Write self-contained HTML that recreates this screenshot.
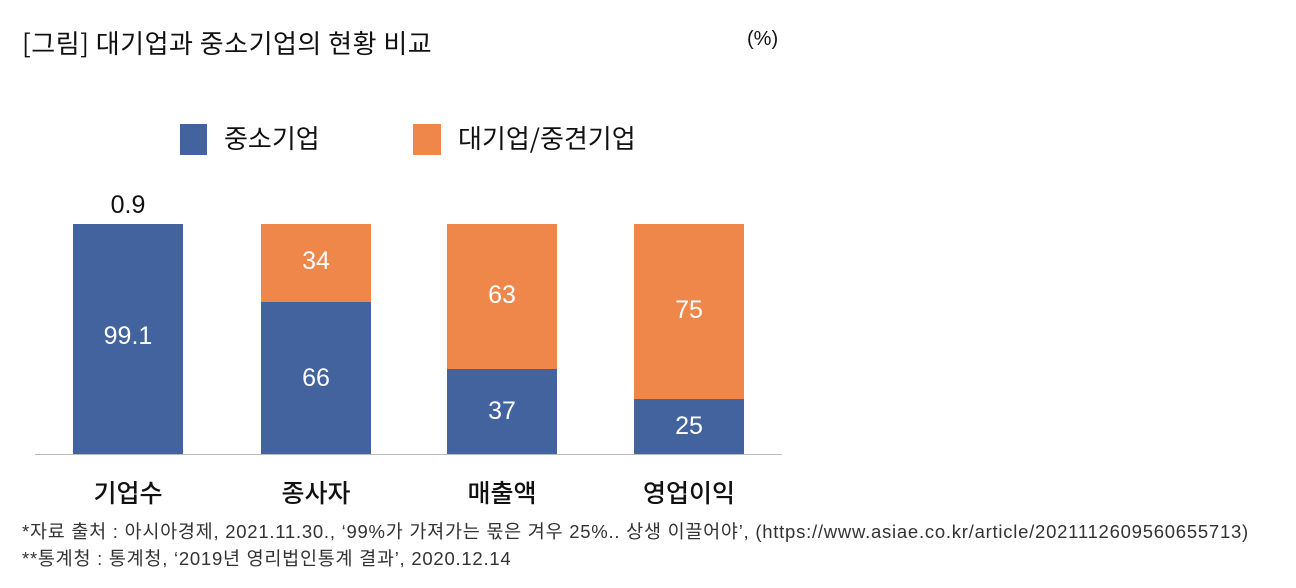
<!DOCTYPE html>
<html><head><meta charset="utf-8"><style>
body{margin:0;width:1296px;height:588px;background:#fff;position:relative;overflow:hidden;font-family:"Liberation Sans","Noto Sans CJK KR",sans-serif;color:#111}
.a{position:absolute;white-space:nowrap}
.bar{position:absolute;width:110px}
.b{background:#42639d}.o{background:#f0874a}
.v{position:absolute;width:110px;text-align:center;color:#fff;font-size:25px}
.cat{position:absolute;width:160px;text-align:center;font-size:25px;top:474px;font-family:"Noto Sans CJK KR",sans-serif;font-weight:500;letter-spacing:0}
</style></head><body>
<div class="a" style="left:22px;top:24px;font-size:26px;font-family:'Noto Sans CJK KR',sans-serif;letter-spacing:0.5px">[그림] 대기업과 중소기업의 현황 비교</div>
<div class="a" style="left:747px;top:28px;font-size:20px">(%)</div>
<div class="a b" style="left:180px;top:124px;width:27px;height:31px"></div>
<div class="a" style="left:224px;top:119px;font-size:26px;font-family:'Noto Sans CJK KR',sans-serif">중소기업</div>
<div class="a o" style="left:413px;top:124px;width:28px;height:31px"></div>
<div class="a" style="left:458px;top:119px;font-size:26px;font-family:'Noto Sans CJK KR',sans-serif">대기업/중견기업</div>
<div class="a" style="left:73px;width:110px;text-align:center;top:191px;font-size:25px">0.9</div>
<div class="bar b" style="left:73px;top:224px;height:230px"></div>
<div class="v" style="left:73px;top:322px">99.1</div>
<div class="bar o" style="left:261px;top:224px;height:78px"></div>
<div class="bar b" style="left:261px;top:302px;height:152px"></div>
<div class="v" style="left:261px;top:247px">34</div>
<div class="v" style="left:261px;top:364px">66</div>
<div class="bar o" style="left:447px;top:224px;height:145px"></div>
<div class="bar b" style="left:447px;top:369px;height:85px"></div>
<div class="v" style="left:447px;top:281px">63</div>
<div class="v" style="left:447px;top:397px">37</div>
<div class="bar o" style="left:634px;top:224px;height:175px"></div>
<div class="bar b" style="left:634px;top:399px;height:55px"></div>
<div class="v" style="left:634px;top:296px">75</div>
<div class="v" style="left:634px;top:412px">25</div>
<div class="a" style="left:35px;top:454px;width:747px;height:1px;background:#bbb"></div>
<div class="cat" style="left:48px">기업수</div>
<div class="cat" style="left:236px">종사자</div>
<div class="cat" style="left:422px">매출액</div>
<div class="cat" style="left:609px">영업이익</div>
<div class="a" style="left:22px;top:518px;font-size:18.5px;color:#333;letter-spacing:0.75px">*자료 출처 : 아시아경제, 2021.11.30., ‘99%가 가져가는 몫은 겨우 25%.. 상생 이끌어야’, (https://www.asiae.co.kr/article/2021112609560655713)</div>
<div class="a" style="left:22px;top:545px;font-size:18.5px;color:#333;letter-spacing:0.75px">**통계청 : 통계청, ‘2019년 영리법인통계 결과’, 2020.12.14</div>
</body></html>
